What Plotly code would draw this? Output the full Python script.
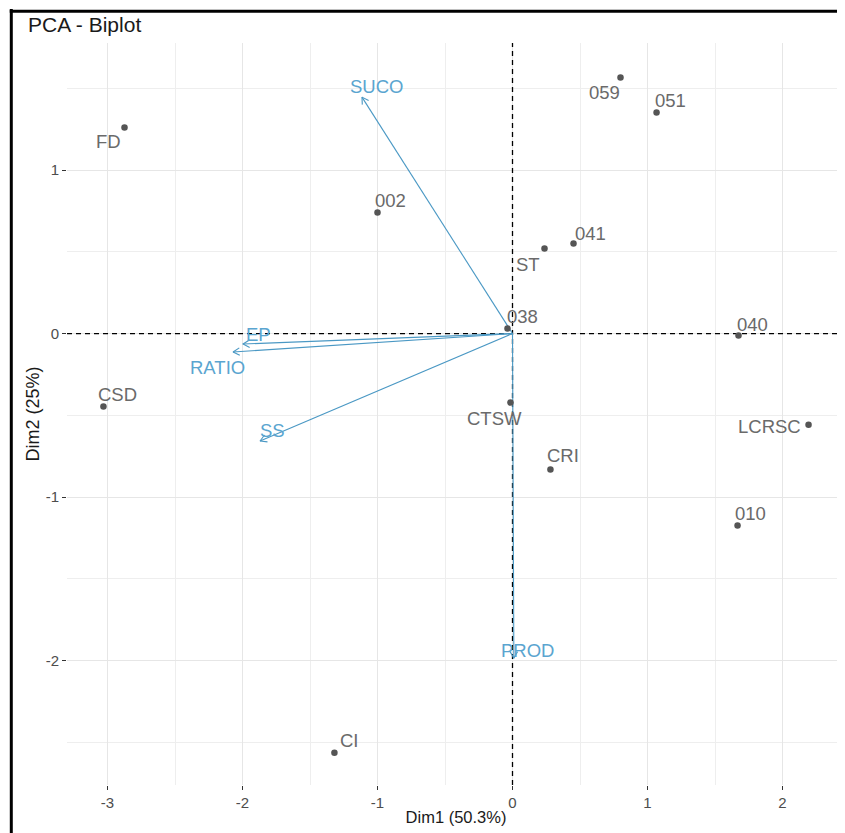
import math
import plotly.graph_objects as go

# ---------------- data ----------------
ind_names = ["FD", "059", "051", "002", "041", "ST", "038", "040",
             "CSD", "CTSW", "LCRSC", "CRI", "010", "CI"]
ind_dim1 = [-2.874, 0.800, 1.067, -1.000, 0.452, 0.237, -0.037, 1.674,
            -3.030, -0.015, 2.193, 0.281, 1.667, -1.319]
ind_dim2 = [1.260, 1.566, 1.352, 0.740, 0.550, 0.520, 0.031, -0.012,
            -0.446, -0.422, -0.557, -0.832, -1.174, -2.563]

var_names = ["SUCO", "EP", "RATIO", "SS", "PROD"]
var_dim1 = [-1.115, -1.996, -2.070, -1.870, 0.010]
var_dim2 = [1.446, -0.064, -0.113, -0.657, -1.985]

x_ticks = [-3, -2, -1, 0, 1, 2]
y_ticks = [-2, -1, 0, 1]

title_text = "PCA - Biplot"
x_title = "Dim1 (50.3%)"
y_title = "Dim2 (25%)"

# ---------------- style / layout ----------------
PAGE_W, PAGE_H = 845, 833
BODY = 8  # default body margin of the html page
W, H = PAGE_W - BODY, PAGE_H - BODY
# plot area in page pixels: left 67, top 43, bottom 785, right 845
ML = 67 - BODY
MT = 43 - BODY
MB = H - (785 - BODY)
MR = 0
XR = [-3.30, 2.463]
YR = [-2.761, 1.777]
PW, PH = W - ML - MR, H - MT - MB
sx = PW / (XR[1] - XR[0])
sy = PH / (YR[1] - YR[0])

FONT = "Liberation Sans, Arial, sans-serif"
IND_PT = "#555555"
IND_TXT = "#6a6a6a"
VAR_LINE = "#4a98c4"
VAR_TXT = "#5aa5d0"
LBL_SIZE = 18.5

# label offsets in pixels (dx right, dy down)
ind_offsets = {
    "FD": (-16, 14), "059": (-16, 15), "051": (14, -12), "002": (13, -12),
    "041": (17, -10), "ST": (-16, 16), "038": (15, -12), "040": (14, -11),
    "CSD": (14, -12), "CTSW": (-16, 16), "LCRSC": (-39, 2), "CRI": (13, -14),
    "010": (13, -12), "CI": (15, -12),
}
var_offsets = {
    "SUCO": (15, -11), "EP": (15, -10), "RATIO": (-16, 15),
    "SS": (12, -10), "PROD": (14, -8),
}

fig = go.Figure()

# dashed reference lines through the origin
fig.add_trace(go.Scatter(x=[0, 0], y=YR, mode="lines",
                         line=dict(color="black", width=1.3, dash="5px,4px"),
                         hoverinfo="skip", showlegend=False))
fig.add_trace(go.Scatter(x=XR, y=[0, 0], mode="lines",
                         line=dict(color="black", width=1.3, dash="5px,4px"),
                         hoverinfo="skip", showlegend=False))

# variable arrows (shafts)
sx_list, sy_list = [], []
for x, y in zip(var_dim1, var_dim2):
    sx_list += [0, x, None]
    sy_list += [0, y, None]

# arrowheads (open V), computed in pixel space
hx, hy = [], []
L = 7.5
ang = math.radians(30)
for x, y in zip(var_dim1, var_dim2):
    tx, ty = x * sx, -y * sy
    dx, dy = -tx, -ty
    n = math.hypot(dx, dy)
    ux, uy = dx / n, dy / n
    pts = []
    for s in (ang, -ang):
        rx = ux * math.cos(s) - uy * math.sin(s)
        ry = ux * math.sin(s) + uy * math.cos(s)
        pts.append((tx + L * rx, ty + L * ry))
    hx += [pts[0][0] / sx, x, pts[1][0] / sx, None]
    hy += [-pts[0][1] / sy, y, -pts[1][1] / sy, None]

fig.add_trace(go.Scatter(x=sx_list, y=sy_list, mode="lines",
                         line=dict(color=VAR_LINE, width=1.1),
                         hoverinfo="skip", showlegend=False))
fig.add_trace(go.Scatter(x=hx, y=hy, mode="lines",
                         line=dict(color=VAR_LINE, width=1.1),
                         hoverinfo="skip", showlegend=False))

# individuals
fig.add_trace(go.Scatter(x=ind_dim1, y=ind_dim2, mode="markers",
                         marker=dict(color=IND_PT, size=6.5),
                         text=ind_names, hoverinfo="text", showlegend=False))

annotations = []
for n, x, y in zip(ind_names, ind_dim1, ind_dim2):
    dx, dy = ind_offsets[n]
    annotations.append(dict(x=x, y=y, xref="x", yref="y", text=n, showarrow=False,
                            xshift=dx, yshift=-dy, xanchor="center", yanchor="middle",
                            font=dict(family=FONT, size=LBL_SIZE, color=IND_TXT)))
for n, x, y in zip(var_names, var_dim1, var_dim2):
    dx, dy = var_offsets[n]
    annotations.append(dict(x=x, y=y, xref="x", yref="y", text=n, showarrow=False,
                            xshift=dx, yshift=-dy, xanchor="center", yanchor="middle",
                            font=dict(family=FONT, size=LBL_SIZE, color=VAR_TXT)))

# frame around the picture (page pixel 11.3 on left and top)
fx = (11.3 - BODY - ML) / PW
fy = (H - MB - (11.3 - BODY)) / PH
shapes = [
    dict(type="line", xref="paper", yref="paper", x0=fx, x1=fx, y0=fy + 0.003, y1=-0.1,
         line=dict(color="black", width=3)),
    dict(type="line", xref="paper", yref="paper", x0=fx - 0.002, x1=1.02, y0=fy, y1=fy,
         line=dict(color="black", width=3)),
]

axis_common = dict(
    showline=False, zeroline=False, showgrid=True,
    gridcolor="#e6e6e6", gridwidth=1,
    ticks="outside", ticklen=4, tickwidth=1, tickcolor="#333333",
    tickfont=dict(family=FONT, size=15, color="#4d4d4d"),
    automargin=False,
)

fig.update_layout(
    width=W, height=H,
    margin=dict(l=ML, r=MR, t=MT, b=MB),
    paper_bgcolor="white", plot_bgcolor="white",
    font=dict(family=FONT),
    title=dict(text=title_text, xref="container", yref="container",
               x=(28 - BODY) / W, xanchor="left", y=1 - (25 - BODY) / H, yanchor="middle",
               font=dict(family=FONT, size=21, color="#1a1a1a")),
    xaxis=dict(range=XR, tickvals=x_ticks, ticktext=[str(v) for v in x_ticks],
               minor=dict(showgrid=True, tick0=0.5, dtick=1, gridcolor="#eeeeee", gridwidth=0.8),
               title=dict(text=x_title, standoff=1,
                          font=dict(family=FONT, size=16.5, color="#1a1a1a")),
               **axis_common),
    yaxis=dict(range=YR, tickvals=y_ticks, ticktext=[str(v) for v in y_ticks],
               minor=dict(showgrid=True, tick0=0.5, dtick=1, gridcolor="#eeeeee", gridwidth=0.8),
               title=dict(text=y_title, standoff=1,
                          font=dict(family=FONT, size=18, color="#1a1a1a")),
               **axis_common),
    annotations=annotations,
    shapes=shapes,
    showlegend=False,
)

fig.write_html("out.html")
